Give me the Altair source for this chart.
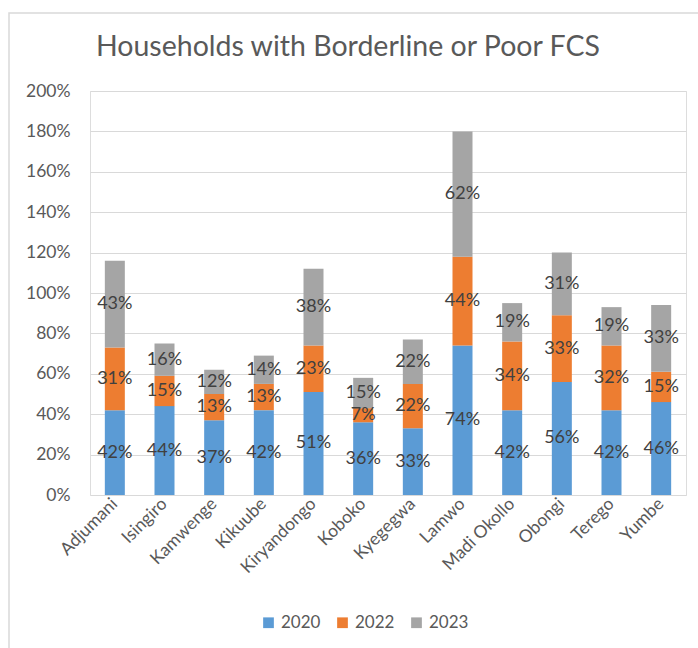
import altair as alt
import pandas as pd

districts = ["Adjumani", "Isingiro", "Kamwenge", "Kikuube", "Kiryandongo", "Koboko",
             "Kyegegwa", "Lamwo", "Madi Okollo", "Obongi", "Terego", "Yumbe"]
years = ["2020", "2022", "2023"]
v2020 = [0.42, 0.44, 0.37, 0.42, 0.51, 0.36, 0.33, 0.74, 0.42, 0.56, 0.42, 0.46]
v2022 = [0.31, 0.15, 0.13, 0.13, 0.23, 0.07, 0.22, 0.44, 0.34, 0.33, 0.32, 0.15]
v2023 = [0.43, 0.16, 0.12, 0.14, 0.38, 0.15, 0.22, 0.62, 0.19, 0.31, 0.19, 0.33]
colors = ["#5B9BD5", "#ED7D31", "#A5A5A5"]
title_text = "Households with Borderline or Poor FCS"

rows = []
for yi, (yr, vals) in enumerate(zip(years, [v2020, v2022, v2023])):
    for d, v in zip(districts, vals):
        rows.append({"district": d, "year": yr, "order": yi, "value": v})
df = pd.DataFrame(rows)

FONT = "Lato"
W, H = 596, 404

base = alt.Chart(df).transform_stack(
    stack="value", groupby=["district"], as_=["y0", "y1"],
    sort=[alt.SortField("order", order="ascending")]
).transform_calculate(mid="(datum.y0 + datum.y1) / 2")

xscale = alt.Scale(paddingInner=0.6, paddingOuter=0.3)
yscale = alt.Scale(domain=[0, 2])
xaxis = alt.Axis(labelAngle=-45, labelAlign="right", labelBaseline="middle",
                 labelFontSize=17.5, labelColor="#595959",
                 labelFont=FONT, ticks=False, domain=False,
                 labelPadding=6, title=None, grid=False)
yaxis = alt.Axis(format=".0%", values=[0, 0.2, 0.4, 0.6, 0.8, 1.0, 1.2, 1.4, 1.6, 1.8, 2.0],
                 labelFontSize=17.5, labelColor="#595959", labelFont=FONT,
                 ticks=False, domain=False, gridColor="#D9D9D9",
                 labelPadding=20, title=None)

bars = base.mark_bar(size=20).encode(
    x=alt.X("district:N", sort=districts, title=None, scale=xscale, axis=xaxis),
    y=alt.Y("y0:Q", title=None, scale=yscale, axis=yaxis),
    y2="y1:Q",
    color=alt.Color("year:N", scale=alt.Scale(domain=years, range=colors),
                    legend=alt.Legend(title=None, orient="none", direction="horizontal",
                                      legendX=170, legendY=523, symbolType="square",
                                      symbolSize=115, labelFontSize=17, labelFont=FONT,
                                      labelColor="#595959", columnPadding=13,
                                      symbolStrokeWidth=0)),
)

labels = base.mark_text(fontSize=18, font=FONT, color="#404040").encode(
    x=alt.X("district:N", sort=districts, title=None, scale=xscale, axis=xaxis),
    y=alt.Y("mid:Q", title=None, scale=yscale, axis=yaxis),
    text=alt.Text("value:Q", format=".0%"),
)

one = alt.Chart(df).transform_filter(
    "datum.year == '2020' && datum.district == 'Adjumani'")

frame = one.mark_rect(fill="transparent", stroke="#D9D9D9", strokeWidth=1.5).encode(
    x=alt.value(-81), x2=alt.value(640), y=alt.value(-78), y2=alt.value(600)
)

title = one.mark_text(fontSize=28.5, font=FONT, color="#595959", align="center",
                      baseline="middle").encode(
    x=alt.value(258), y=alt.value(-44), text=alt.value(title_text)
)

chart = alt.layer(frame, title, bars, labels).properties(
    width=W, height=H,
    autosize=alt.AutoSizeParams(type="none"),
    padding={"left": 90, "top": 91, "right": 12, "bottom": 153},
).configure_view(
    stroke="white", strokeWidth=0, strokeOpacity=0, fill="white"
).configure_axis(
    domain=False, domainOpacity=0, domainWidth=0, ticks=False
).configure(background="white")

chart.save("out.html", embed_options={"renderer": "svg", "actions": False})
